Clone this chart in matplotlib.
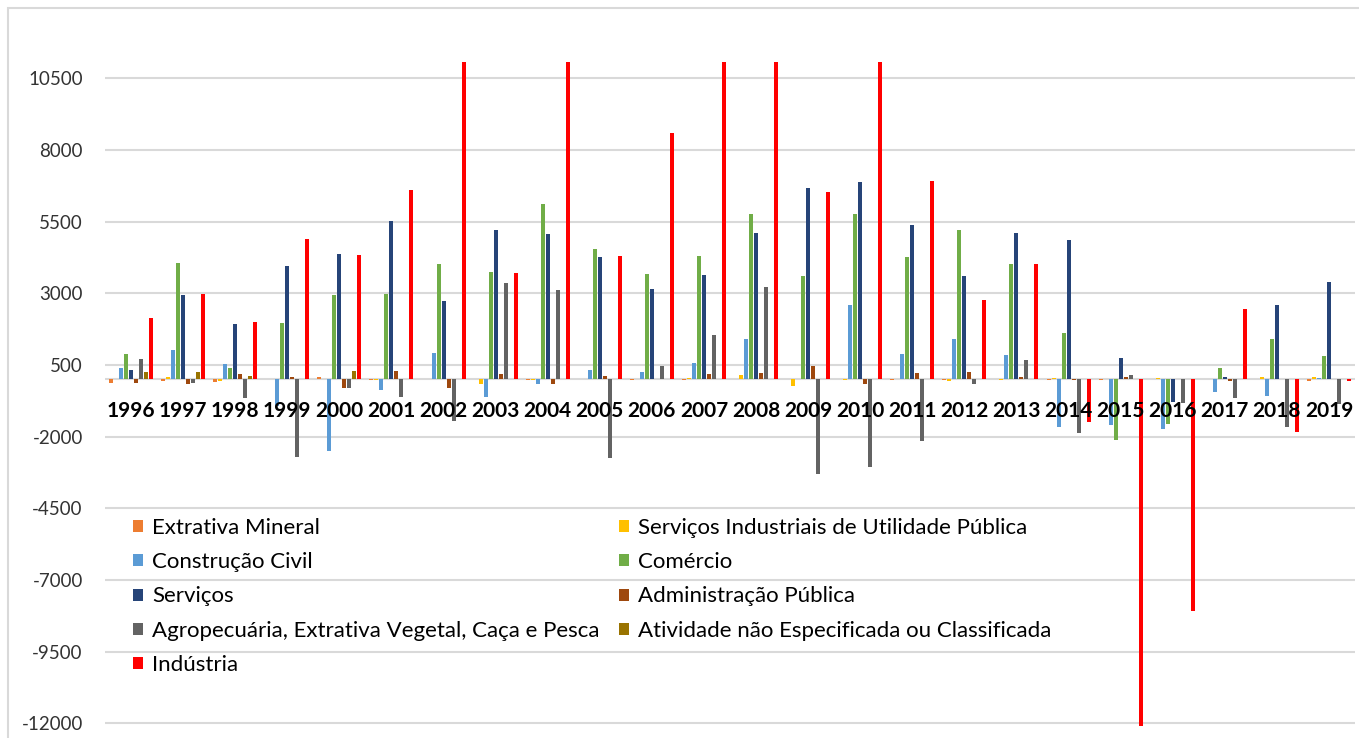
import numpy as np
import matplotlib
matplotlib.use("Agg")
import matplotlib.pyplot as plt
from matplotlib.patches import Rectangle

plt.rcParams['font.family'] = ['Lato', 'DejaVu Sans']

# --- data (saldo de empregos por setor) ---
years = [str(y) for y in range(1996, 2020)]

extrativa = [-130, -46, -80, 0, 80, -30, 10, 0, -15, 0, -10, -10,
             0, 0, 0, -10, -15, 0, -20, -20, 0, 0, 0, -40]
siup = [0, 80, -60, 0, 0, -30, 0, -150, -10, 0, 0, 46,
        150, -231, -20, 0, -58, -30, 46, 0, 46, 0, 69, 69]
construcao = [381, 1028, 531, -920, -2483, -358, 935, -624, -150, 335, 242, 554,
              1397, 0, 2598, 889, 1420, 866, -1674, -1582, -1744, -427, -589, 46]
comercio = [878, 4065, 404, 1951, 2956, 2991, 4041, 3741, 6108, 4538, 3683, 4307,
            5785, 3614, 5762, 4272, 5208, 4030, 1617, -2113, -1547, 393, 1397, 808]
servicos = [335, 2956, 1917, 3961, 4388, 5508, 2748, 5208, 5069, 4272, 3141, 3637,
            5092, 6663, 6870, 5392, 3591, 5092, 4850, 762, -774, 80, 2610, 3406]
adm_publica = [-115, -160, 185, 80, -290, 290, -300, 173, -150, 127, 0, 196,
               219, 462, -150, 219, 254, 80, -20, 69, 0, -69, 0, 10]
agropecuaria = [704, -115, -658, -2702, -310, -624, -1466, 3372, 3118, -2737, 462, 1559,
                3233, -3291, -3060, -2136, -150, 681, -1882, 150, -831, -658, -1663, -866]
nao_especificada = [254, 242, 127, 0, 290, 0, 0, 0, 0, 0, 0, 0,
                    0, 0, 0, 0, 0, 0, 0, 0, 0, 0, 0, 0]
industria = [2148, 2991, 1998, 4896, 4342, 6593, 12000, 3718, 12000, 4319, 8602, 12000,
             12000, 6524, 12000, 6905, 2771, 4041, -1501, -12100, -8070, 2471, -1848, -40]

series = [
    ("Extrativa Mineral", extrativa, "#ED7D31"),
    ("Serviços Industriais de Utilidade Pública", siup, "#FFC000"),
    ("Construção Civil", construcao, "#5B9BD5"),
    ("Comércio", comercio, "#70AD47"),
    ("Serviços", servicos, "#264478"),
    ("Administração Pública", adm_publica, "#9E480E"),
    ("Agropecuária, Extrativa Vegetal, Caça e Pesca", agropecuaria, "#636363"),
    ("Atividade não Especificada ou Classificada", nao_especificada, "#997300"),
    ("Indústria", industria, "#FF0000"),
]
yticks = [10500, 8000, 5500, 3000, 500, -2000, -4500, -7000, -9500, -12000]

W, H = 1359, 738
fig = plt.figure(figsize=(W / 100, H / 100), dpi=100)
ax = fig.add_axes([105 / W, 12 / H, 1250 / W, 664 / H])

# outer chart border
fig.patches.append(Rectangle((8 / W, -0.5), 2, 1.5 - 8 / H, transform=fig.transFigure,
                             fill=False, edgecolor="#d9d9d9", linewidth=1.5))

x = np.arange(len(years))
slot = 0.096
handles = []
for k, (name, vals, color) in enumerate(series):
    b = ax.bar(x + (k - 4) * slot, vals, width=0.078, color=color, label=name, zorder=3)
    handles.append(b)

ax.set_xlim(-0.5, len(years) - 0.5)
ax.set_ylim(-12090, 11070)
ax.set_yticks(yticks)
ax.set_yticklabels([str(t) for t in yticks], fontsize=13.5, color="#333333")
ax.tick_params(axis="y", length=0, pad=16)
ax.set_xticks([])
ax.grid(axis="y", color="#d9d9d9", linewidth=1.5, zorder=0)
ax.axhline(0, color="#d9d9d9", linewidth=1.5, zorder=2)
for s in ax.spines.values():
    s.set_visible(False)

for i, yr in enumerate(years):
    ax.text(i, -1100, yr, ha="center", va="center", fontsize=15,
            fontweight="bold", zorder=5)

order = [0, 2, 4, 6, 8, 1, 3, 5, 7]
leg = ax.legend([handles[i] for i in order], [series[i][0] for i in order],
                ncol=2, frameon=False, fontsize=16, loc="upper left",
                bbox_to_anchor=(113 / W, (H - 498) / H), bbox_transform=fig.transFigure,
                handlelength=0.45, handleheight=0.45, handletextpad=0.4,
                labelspacing=0.64, columnspacing=0.9)

fig.savefig("out.png", dpi=100)
